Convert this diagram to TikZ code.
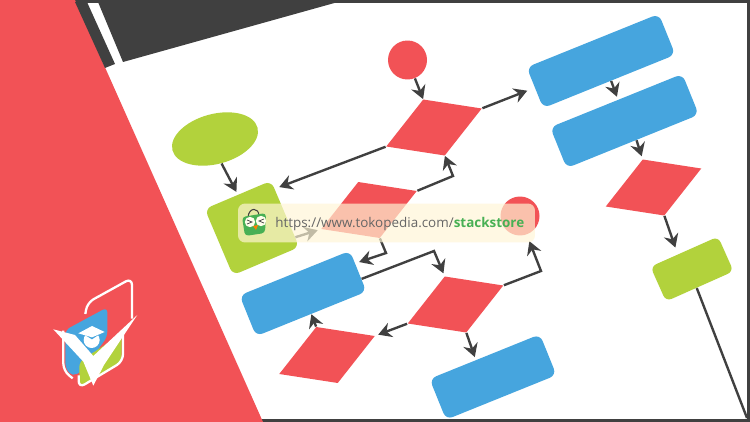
\documentclass[tikz,border=0pt]{standalone}
\usepackage{fontspec}
\setmainfont{Open Sans}
\usepackage{tikz}
\usetikzlibrary{arrows.meta,calc,positioning,shapes.geometric}
\definecolor{coral}{RGB}{242,82,86}
\definecolor{leaf}{RGB}{178,210,60}
\definecolor{sky}{RGB}{70,165,222}
\definecolor{ink}{RGB}{64,64,64}
\definecolor{bannercol}{RGB}{255,246,214}
\definecolor{shopgreen}{RGB}{72,176,84}

\begin{document}
\begin{tikzpicture}[x=0.02cm,y=-0.02cm,>={Stealth[length=7.5pt,width=8.5pt,inset=2.5pt]}]
  \tikzset{
    bluebox/.style={fill=sky,rounded corners=4pt,minimum width=#1,minimum height=0.88cm,rotate=22},
    bluebox/.default=2.85cm,
    para/.style={fill=coral,minimum size=1cm,inner sep=0pt,cm={1.17,-0.18,0.74,0.94,(0,0)}},
    dot/.style={circle,fill=coral,minimum size=0.78cm,inner sep=0pt},
    link/.style={->,draw=ink,line width=1.35pt}
  }
  \useasboundingbox (0,0) rectangle (750,422);
  \fill[white] (0,0) rectangle (750,422);
  % frame and corner shapes
  \draw[ink,line width=1.6pt] (75,1.2)--(748.8,1.2)--(748.8,420.4)--(255,420.4);
  \fill[coral] (0,0)--(75,0)--(263,422)--(0,422)--cycle;
  \fill[ink] (75,2)--(87,2)--(115,64)--(105,68)--cycle;
  \fill[ink] (98,2)--(338,2)--(123,62)--cycle;

  % round and soft shapes
  \node[dot] (startc) at (407.5,60) {};
  \node[dot] (endc) at (520,216) {};
  \node[ellipse,fill=leaf,minimum width=1.76cm,minimum height=1cm,inner sep=0pt,rotate=15] (oval) at (215,139) {};
  \node[fill=leaf,rounded corners=4pt,minimum size=1.44cm,rotate=23] (gsq) at (252,228) {};
  \node[fill=leaf,rounded corners=3.5pt,minimum width=1.48cm,minimum height=0.76cm,rotate=24] (gbox) at (692,269) {};

  \node[bluebox] (b1) at (601,61) {};
  \node[bluebox] (b2) at (624.5,121) {};
  \node[bluebox=2.38cm] (b3) at (303,293.5) {};
  \node[bluebox=2.38cm] (b4) at (493,377) {};

  % parallelograms
  \node[para] (p1) at (434,127.5) {};
  \node[para] (p2) at (369,210) {};
  \node[para] (p3) at (455.5,304.5) {};
  \node[para] (p4) at (327,355) {};
  \node[para] (p5) at (653.5,187.5) {};

  \coordinate (k1) at (453,176);
  \coordinate (k2) at (386,253);
  \coordinate (k3) at (434,251);
  \coordinate (k4) at (541,271);
  \coordinate (out) at (747,418);

  \draw[link] (startc.-68) -- (p1.north west);
  \draw[link,shorten >=4.5pt] (p1.north east) -- (b1.west);
  \draw[link] (p1.south west) -- ($(gsq.33)+(3,-5)$);
  \draw[link,shorten >=1.7pt] (b1.-85) -- (b2.85);
  \draw[link,shorten >=1.7pt] (b2.-80) -- (p5.north west);
  \draw[link,shorten >=4pt] (p5.south east) -- (gbox.110);
  \draw[draw=ink,line width=1.35pt] (gbox.-100) -- (out);
  \draw[link,shorten >=1.7pt] (oval.south) -- (gsq.north);
  \draw[link,shorten >=1.7pt] (gsq.-35) -- (p2.south west);
  \draw[link] (p2.north east) -- (k1) -- (p1.south east);
  \draw[link,shorten >=2.3pt] (p2.south east) -- (k2) -- (b3.8);
  \draw[link,shorten >=1.7pt] (b3.-8) -- (k3) -- (p3.north west);
  \draw[link,shorten >=4pt] (p3.north east) -- (k4) -- (endc.-70);
  \draw[link,shorten >=1.7pt] (p3.south west) -- (p4.north east);
  \draw[link,shorten >=1.7pt] (p3.south east) -- ($(b4.north west)!0.42!(b4.north east)$);
  \draw[link] (p4.north west) -- (b3.south);

  % address bar
  \node[fill=bannercol,fill opacity=0.68,rounded corners=4pt,minimum width=5.94cm,minimum height=0.78cm] (bar) at (386.5,223) {};
  \node[anchor=west,inner sep=0pt,font=\fontsize{7.65}{9}\selectfont,text=black!60] (url) at (275,224)
    {https://www.tokopedia.com/\textcolor{shopgreen}{\textbf{stackstore}}};
  % shop bag
  \coordinate (bag) at (254,225);
  \draw[ink,line width=0.6pt] ($(bag)+(-6,-8)$) .. controls ($(bag)+(-5,-18)$) and ($(bag)+(5,-18)$) .. ($(bag)+(5,-9)$);
  \fill[shopgreen,rounded corners=2pt] ($(bag)+(-12,-8)$) -- ($(bag)+(12,-12)$) -- ($(bag)+(11,8)$) -- ($(bag)+(-9,11)$) -- cycle;
  \fill[white!92!yellow] ($(bag)+(-4,-3)$) circle (5.2);
  \fill[white!92!yellow] ($(bag)+(7,-4)$) circle (5.2);
  \draw[ink,line width=0.4pt] ($(bag)+(-7,-5)$) -- ($(bag)+(-2,-3)$) -- ($(bag)+(-7,-1)$);
  \draw[ink,line width=0.4pt] ($(bag)+(10,-6)$) -- ($(bag)+(5,-4)$) -- ($(bag)+(10,-2)$);
  \fill[orange] ($(bag)+(-1,1)$) -- ($(bag)+(4,0)$) -- ($(bag)+(2,5)$) -- cycle;

  % badge, bottom left
  \begin{scope}[shift={(30,270)},x=0.00667cm,y=-0.00667cm]
    \fill[sky,rounded corners=3pt] (106,180)--(232,112)--(232,200)--(160,300)--(128,320)--(106,295)--cycle;
    \fill[leaf,rounded corners=3pt] (148,275)--(275,192)--(275,274)--(154,350)--(148,335)--cycle;
    \draw[white,line width=1.3pt,rounded corners=4pt] (166,132)--(172,98)--(306,24)--(306,146);
    \draw[white,line width=1.3pt,rounded corners=4pt] (100,182)--(100,302)--(128,325);
    \draw[white,line width=1.3pt,rounded corners=4pt] (146,316)--(146,354)--(279,274)--(279,190);
    \fill[white] (70,178)--(135,195)--(190,258)--(322,135)--(222,285)--(190,347)--(160,275)--cycle;
    \fill[white] (185,210) circle (24);
    \fill[sky] (160,192)--(186,208)--(210,192)--(210,184)--(160,184)--cycle;
    \fill[white] (145,190)--(186,168)--(224,186)--(186,202)--cycle;
  \end{scope}
\end{tikzpicture}
\end{document}
